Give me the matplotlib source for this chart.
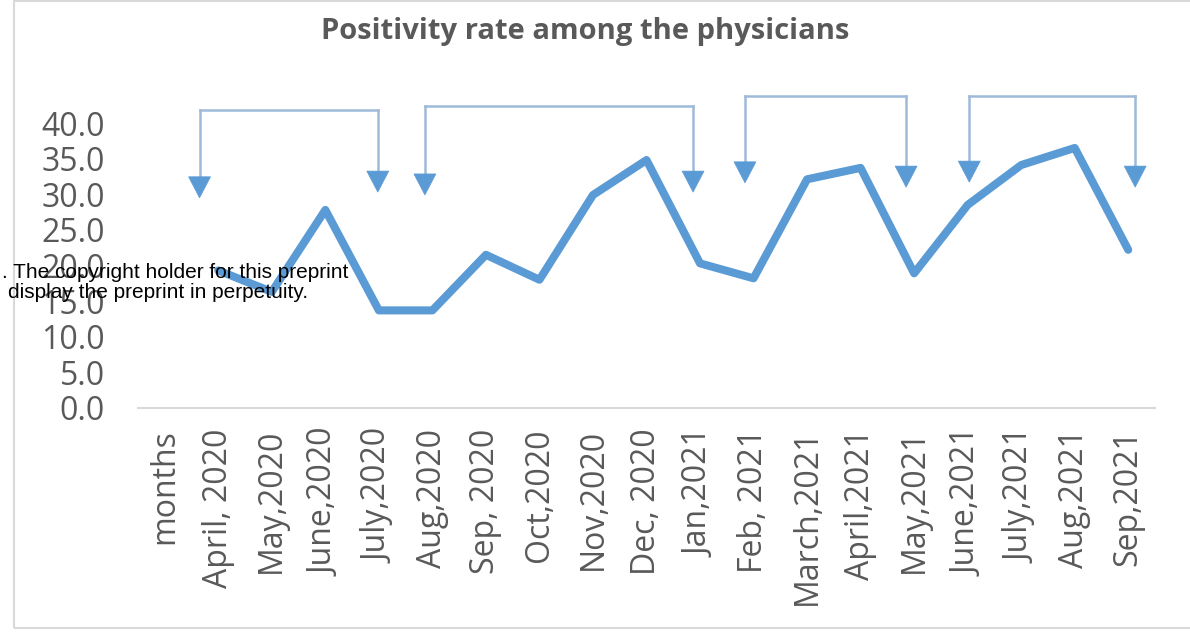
import numpy as np
import matplotlib
matplotlib.use("Agg")
import matplotlib.pyplot as plt
from matplotlib.patches import Polygon, Rectangle

# ---- data ----
categories = ["months", "April, 2020", "May,2020", "June,2020", "July,2020", "Aug,2020",
              "Sep, 2020", "Oct,2020", "Nov,2020", "Dec, 2020", "Jan,2021", "Feb, 2021",
              "March,2021", "April,2021", "May,2021", "June,2021", "July,2021",
              "Aug,2021", "Sep,2021"]
positivity = [np.nan, 19.3, 16.3, 27.8, 13.7, 13.7, 21.5, 18.0, 29.9, 34.8, 20.3, 18.2,
              32.1, 33.7, 18.9, 28.5, 34.1, 36.5, 22.2]
yticks = [0, 5, 10, 15, 20, 25, 30, 35, 40]

# bracket annotations (category positions, heights in value units)
bracket_left = [0.65, 4.86, 10.84, 15.03]
bracket_right = [3.98, 9.87, 13.85, 18.13]
bracket_top = [41.8, 42.4, 43.8, 43.8]
tip_left = [29.5, 29.9, 31.6, 31.7]
tip_right = [30.3, 30.3, 31.0, 31.0]

title = "Positivity rate among the physicians"
watermark = [". The copyright holder for this preprint", "display the preprint in perpetuity."]

# ---- figure ----
W, H = 1190, 634
fig = plt.figure(figsize=(W / 100, H / 100), dpi=100)
fig.patch.set_facecolor("white")

# outer chart frame
fig.patches.append(Rectangle((14 / W, 1 - 628 / H), 1.2, (627 / H), transform=fig.transFigure,
                             fill=False, edgecolor="#D9D9D9", linewidth=1.5))

ax = fig.add_axes([138 / W, 1 - 408 / H, (1155 - 138) / W, (408 - 123) / H])
x = np.arange(len(categories))
line_color = "#5B9BD5"
ax.plot(x, positivity, color=line_color, linewidth=5.8, solid_joinstyle="round",
        solid_capstyle="round", zorder=3)

ax.set_xlim(-0.5, len(categories) - 0.5)
ax.set_ylim(0, 40)
ax.set_yticks(yticks)
ax.set_yticklabels([f"{v:.1f}" for v in yticks])
ax.set_xticks(x)
ax.set_xticklabels(categories, rotation=90)

for s in ["left", "top", "right"]:
    ax.spines[s].set_visible(False)
ax.spines["bottom"].set_color("#D9D9D9")
ax.spines["bottom"].set_linewidth(1.5)
ax.tick_params(axis="y", length=0, pad=24, labelsize=23, labelcolor="#595959")
ax.tick_params(axis="x", length=0, pad=15, labelsize=23, labelcolor="#595959")
for lab in ax.get_xticklabels() + ax.get_yticklabels():
    lab.set_family("Open Sans")

# brackets with arrows
conn_color = "#9FBAD9"
head_w = 0.41   # in category units
head_h = 2.95   # in value units
for xl, xr, yt, tl, tr in zip(bracket_left, bracket_right, bracket_top, tip_left, tip_right):
    ax.plot([xl, xr], [yt, yt], color=conn_color, lw=1.8, clip_on=False, zorder=2)
    for xx, tip in [(xl, tl), (xr, tr)]:
        ax.plot([xx, xx], [yt, tip + head_h], color=conn_color, lw=1.8, clip_on=False, zorder=2)
        tri = Polygon([[xx - head_w / 2, tip + head_h], [xx + head_w / 2, tip + head_h], [xx, tip]],
                      closed=True, facecolor=line_color, edgecolor=line_color, lw=0.5,
                      clip_on=False, zorder=2)
        ax.add_patch(tri)

fig.text(585 / W, 1 - 32 / H, title, ha="center", va="center", fontsize=21,
         fontweight="bold", color="#595959", family="Open Sans")

fig.text(2 / W, 1 - 272 / H, watermark[0], ha="left", va="center", fontsize=15,
         color="black", family="Liberation Sans", zorder=10)
fig.text(8 / W, 1 - 293 / H, watermark[1], ha="left", va="center", fontsize=15,
         color="black", family="Liberation Sans", zorder=10)

fig.savefig("out.png", dpi=100, facecolor="white")
